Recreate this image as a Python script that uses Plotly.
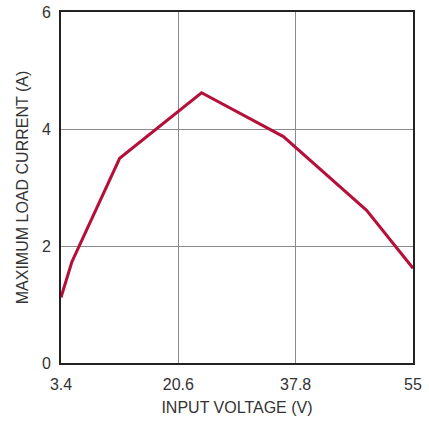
import plotly.graph_objects as go

# Maximum load current vs input voltage
input_voltage = [3.4, 5.0, 12.0, 24.0, 36.0, 48.2, 55.0]
max_load_current = [1.12, 1.73, 3.5, 4.62, 3.87, 2.61, 1.62]

x_ticks = [3.4, 20.6, 37.8, 55]
y_ticks = [0, 2, 4, 6]

FONT = "Liberation Sans, Arial, sans-serif"
TEXT = "#333333"

fig = go.Figure()
fig.add_trace(go.Scatter(
    x=input_voltage,
    y=max_load_current,
    mode="lines",
    line=dict(color="#b5103a", width=3),
    showlegend=False,
))

axis_common = dict(
    showline=True,
    linecolor="#222222",
    linewidth=2,
    mirror=True,
    showgrid=True,
    gridcolor="#8a8a8a",
    gridwidth=1,
    zeroline=False,
    ticks="",
    automargin=False,
    tickfont=dict(family=FONT, size=16, color=TEXT),
)

fig.update_layout(
    width=429,
    height=422,
    margin=dict(l=61, r=16, t=12, b=59),
    paper_bgcolor="white",
    plot_bgcolor="white",
    font=dict(family=FONT, color=TEXT),
    xaxis=dict(
        range=[3.4, 55],
        tickvals=x_ticks,
        ticktext=[str(v) for v in x_ticks],
        ticklabelstandoff=6,
        title=dict(text="INPUT VOLTAGE (V)", font=dict(family=FONT, size=16, color=TEXT), standoff=10),
        **axis_common,
    ),
    yaxis=dict(
        range=[0, 6],
        tickvals=y_ticks,
        ticklabelstandoff=5,
        title=dict(text="MAXIMUM LOAD CURRENT (A)", font=dict(family=FONT, size=16, color=TEXT), standoff=9),
        **axis_common,
    ),
)

fig.write_html("out.html")
